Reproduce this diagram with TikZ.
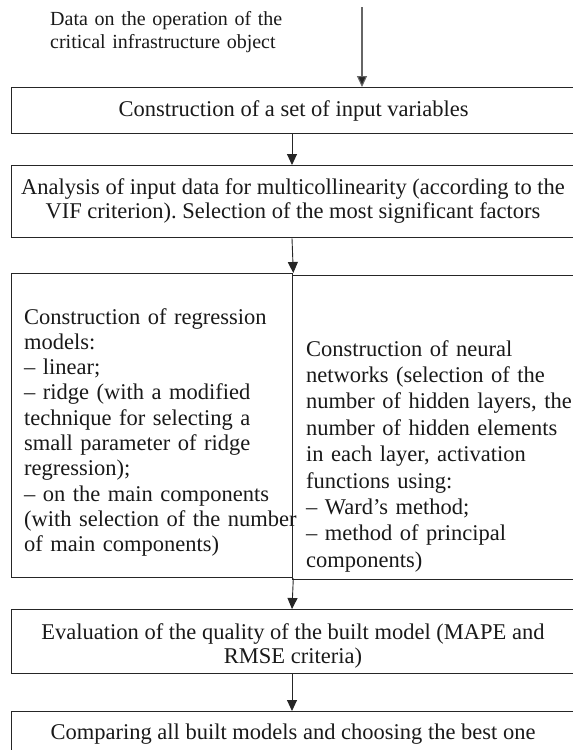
\documentclass[tikz,border=0pt]{standalone}
\usepackage{fontspec}
\setmainfont{Liberation Serif}
\usetikzlibrary{arrows.meta}
\frenchspacing
\begin{document}
\begin{tikzpicture}[x=1pt,y=-1pt,
  box/.style={draw=black!85, line width=1.3pt, inner sep=0pt, anchor=north west},
  arr/.style={draw=black!85, line width=0.9pt, -{Triangle[length=11pt,width=10pt]}},
  greyarr/.style={draw=black!60, line width=1.1pt, -{Triangle[length=11pt,width=10pt,fill=black!85]}},
  bigtxt/.style={font=\fontsize{22.5}{24}\selectfont, inner sep=0pt, text=black!90, align=center},
  smalltxt/.style={font=\fontsize{20}{23}\selectfont, inner sep=0pt, text=black!90, align=left, text width=300pt, anchor=base west},
  coltxt/.style={font=\fontsize{22.5}{25.3}\selectfont, inner sep=0pt, text=black!90, align=left, anchor=base west},
  ]
\useasboundingbox (0,0) rectangle (573,750);
% boxes
\node[box, minimum width=564pt, minimum height=46pt] (b1) at (11,87) {};
\node[box, minimum width=564pt, minimum height=72pt] (b2) at (11,165) {};
\node[box, minimum width=281pt, minimum height=304pt] (b3l) at (11,273) {};
\node[box, minimum width=283pt, minimum height=304pt] (b3r) at (292,275) {};
\node[box, minimum width=564pt, minimum height=64pt] (b4) at (11,609) {};
\node[box, minimum width=564pt, minimum height=80pt] (b5) at (11,711) {};
% texts
\node[smalltxt] (t0) at (50,25) {Data on the operation of the\\critical infrastructure object};
\node[bigtxt] (t1) at (b1.center) {Construction of a set of input variables};
\node[bigtxt, font=\fontsize{22.5}{23.5}\selectfont] (t2) at (293,201) {Analysis of input data for multicollinearity (according to the\\VIF criterion). Selection of the most significant factors};
\node[coltxt, text width=275pt] (t3l) at (24,324) {Construction of regression\\models:\\– linear;\\– ridge (with a modified\\technique for selecting a\\small parameter of ridge\\regression);\\– on the main components\\(with selection of the number\\of main components)};
\node[coltxt, text width=300pt, font=\fontsize{22.5}{26.4}\selectfont] (t3r) at (306,356) {Construction of neural\\networks (selection of the\\number of hidden layers, the\\number of hidden elements\\in each layer, activation\\functions using:\\– Ward’s method;\\– method of principal\\components)};
\node[bigtxt] (t4) at (293,646) {Evaluation of the quality of the built model (MAPE and\\RMSE criteria)};
\node[bigtxt] (t5) at (293,734) {Comparing all built models and choosing the best one};
% connectors
\coordinate (top) at (362,7);
\coordinate (ax) at (292,0);
\draw[greyarr] (top) -- (top |- b1.north);
\draw[arr] (b1.south -| ax) -- (b2.north -| ax);
\draw[arr] (b2.south -| ax) -- (b3l.north east);
\draw[arr] (b3l.south east) -- (b4.north -| ax);
\draw[arr] (b4.south -| ax) -- (b5.north -| ax);
\end{tikzpicture}
\end{document}
